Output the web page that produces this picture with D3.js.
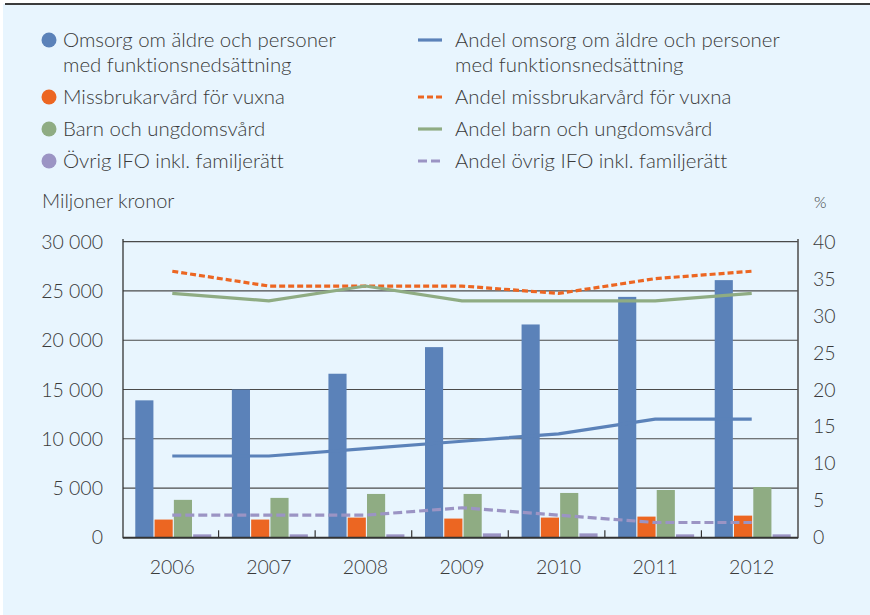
<!DOCTYPE html>
<html>
<head>
<meta charset="utf-8">
<script src="https://cdn.jsdelivr.net/npm/d3@7"></script>
<style>
  html, body { margin: 0; padding: 0; background: #ffffff; }
  svg { display: block; }
  text { font-family: Lato, "Open Sans", sans-serif; font-weight: 300; fill: #3a3a3a; font-variant-ligatures: none; }
</style>
</head>
<body>
<svg id="chart" width="870" height="615"></svg>
<script>
const years = ["2006", "2007", "2008", "2009", "2010", "2011", "2012"];

const omsorg = [13900, 15000, 16600, 19300, 21600, 24400, 26100];
const missbruk = [1800, 1800, 2000, 1900, 2000, 2100, 2200];
const barn = [3800, 4000, 4400, 4400, 4500, 4800, 5100];
const ovrig = [300, 300, 300, 400, 400, 300, 300];

const andelOmsorg = [11, 11, 12, 13, 14, 16, 16];
const andelMissbruk = [36, 34, 34, 34, 33, 35, 36];
const andelBarn = [33, 32, 34, 32, 32, 32, 33];
const andelOvrig = [3, 3, 3, 4, 3, 2, 2];

const leftTicks = [0, 5000, 10000, 15000, 20000, 25000, 30000];
const rightTicks = [0, 5, 10, 15, 20, 25, 30, 35, 40];

const barSeries = [
  { key: "omsorg", name: ["Omsorg om äldre och personer", "med funktionsnedsättning"], values: omsorg, color: "#5b82b9" },
  { key: "missbruk", name: ["Missbrukarvård för vuxna"], values: missbruk, color: "#ec6622" },
  { key: "barn", name: ["Barn och ungdomsvård"], values: barn, color: "#8fac83" },
  { key: "ovrig", name: ["Övrig IFO inkl. familjerätt"], values: ovrig, color: "#9b94c4" }
];
const lineSeries = [
  { name: ["Andel omsorg om äldre och personer", "med funktionsnedsättning"], values: andelOmsorg, color: "#5b82b9", dash: null },
  { name: ["Andel missbrukarvård för vuxna"], values: andelMissbruk, color: "#ec6622", dash: "6,3" },
  { name: ["Andel barn och ungdomsvård"], values: andelBarn, color: "#8fac83", dash: null },
  { name: ["Andel övrig IFO inkl. familjerätt"], values: andelOvrig, color: "#9b94c4", dash: "9,4" }
];

const svg = d3.select("#chart");

// background panel
svg.append("rect").attr("x", 3).attr("y", 4).attr("width", 867).attr("height", 611).attr("fill", "#e8f5fe");
svg.append("line").attr("x1", 5).attr("x2", 870).attr("y1", 4).attr("y2", 4).attr("stroke", "#3c3c3c").attr("stroke-width", 2);

const plot = { left: 123, right: 798, top: 241.7, bottom: 537.3 };

const x = d3.scaleBand().domain(years).range([124, 800]).paddingInner(0).paddingOuter(0);
const xSub = d3.scaleBand().domain(barSeries.map(d => d.key)).range([-37, 39]).paddingInner(0.06);
const yL = d3.scaleLinear().domain([0, 30000]).range([plot.bottom, plot.top]);
const yR = d3.scaleLinear().domain([0, 40]).range([plot.bottom, plot.top]);

// gridlines (left scale)
const fmt = d => d3.format(",")(d).replace(/,/g, " ");
svg.append("g")
  .selectAll("line").data(leftTicks.filter(t => t > 0)).join("line")
  .attr("x1", plot.left).attr("x2", plot.right)
  .attr("y1", d => yL(d)).attr("y2", d => yL(d))
  .attr("stroke", "#4a4a4a").attr("stroke-width", 1.2);

// bars
const groups = svg.append("g").selectAll("g").data(years).join("g")
  .attr("transform", d => `translate(${x(d) + x.bandwidth() / 2},0)`);
groups.selectAll("rect")
  .data((yr, i) => barSeries.map(s => ({ s, v: s.values[i] })))
  .join("rect")
  .attr("x", d => xSub(d.s.key))
  .attr("width", xSub.bandwidth())
  .attr("y", d => yL(d.v))
  .attr("height", d => plot.bottom - yL(d.v))
  .attr("fill", d => d.s.color);

// lines
const line = d3.line().x((d, i) => x(years[i]) + x.bandwidth() / 2).y(d => yR(d));
svg.append("g").selectAll("path").data(lineSeries).join("path")
  .attr("d", d => line(d.values))
  .attr("fill", "none")
  .attr("stroke", d => d.color)
  .attr("stroke-width", 3.2)
  .attr("stroke-dasharray", d => d.dash);

// axes lines
svg.append("line").attr("x1", plot.left).attr("x2", plot.left).attr("y1", 239).attr("y2", plot.bottom + 1)
  .attr("stroke", "#333").attr("stroke-width", 1.3);
svg.append("line").attr("x1", plot.right).attr("x2", plot.right).attr("y1", 239).attr("y2", plot.bottom + 1)
  .attr("stroke", "#555").attr("stroke-width", 1.6);
svg.append("line").attr("x1", plot.left).attr("x2", plot.right).attr("y1", plot.bottom + 0.5).attr("y2", plot.bottom + 0.5)
  .attr("stroke", "#333").attr("stroke-width", 2);
// category boundary ticks
svg.append("g").selectAll("line").data(years.slice(1)).join("line")
  .attr("x1", d => x(d) - 2).attr("x2", d => x(d) - 2)
  .attr("y1", plot.bottom).attr("y2", plot.bottom - 7)
  .attr("stroke", "#333").attr("stroke-width", 1.2);

// tick labels
svg.append("g").selectAll("text").data(leftTicks).join("text")
  .attr("x", 103).attr("y", d => yL(d) + 7)
  .attr("text-anchor", "end").attr("font-size", 19.5)
  .text(d => fmt(d));
svg.append("g").selectAll("text").data(rightTicks).join("text")
  .attr("x", 813).attr("y", d => yR(d) + 7)
  .attr("text-anchor", "start").attr("font-size", 19.5)
  .text(d => d);
svg.append("g").selectAll("text").data(years).join("text")
  .attr("x", d => x(d) + x.bandwidth() / 2).attr("y", 574)
  .attr("text-anchor", "middle").attr("font-size", 19.5)
  .text(d => d);

svg.append("text").attr("x", 42).attr("y", 208).attr("font-size", 20).text("Miljoner kronor");
svg.append("text").attr("x", 814).attr("y", 208).attr("font-size", 16).text("%");

// legend
const rowY = [47, 104, 136, 168];
const leg1 = svg.append("g").selectAll("g").data(barSeries).join("g");
leg1.append("circle").attr("cx", 49).attr("cy", (d, i) => rowY[i] - 7).attr("r", 7.5).attr("fill", d => d.color);
leg1.append("text").attr("font-size", 20.4)
  .selectAll("tspan").data((d, i) => d.name.map((t, j) => ({ t, y: rowY[i] + j * 25 }))).join("tspan")
  .attr("x", 63).attr("y", d => d.y).text(d => d.t);

const leg2 = svg.append("g").selectAll("g").data(lineSeries).join("g");
leg2.append("line").attr("x1", 418).attr("x2", 442)
  .attr("y1", (d, i) => rowY[i] - 7).attr("y2", (d, i) => rowY[i] - 7)
  .attr("stroke", d => d.color).attr("stroke-width", 3.2)
  .attr("stroke-dasharray", d => d.dash);
leg2.append("text").attr("font-size", 20.4)
  .selectAll("tspan").data((d, i) => d.name.map((t, j) => ({ t, y: rowY[i] + j * 25 }))).join("tspan")
  .attr("x", 455).attr("y", d => d.y).text(d => d.t);
</script>
</body>
</html>
